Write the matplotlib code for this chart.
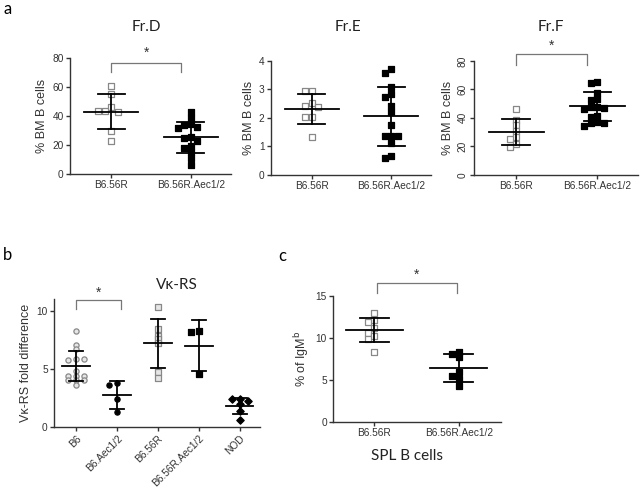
import matplotlib
matplotlib.use("Agg")
import matplotlib.pyplot as plt
import numpy as np

W, H = 641, 496

# panel a: % BM B cells, B6.56R vs B6.56R.Aec1/2
a_groups = ["B6.56R", "B6.56R.Aec1/2"]
frd_b656r = [60.6, 55.3, 46.1, 43.8, 42.9, 43.8, 30.0, 22.8]
frd_aec = [43.1, 39.0, 34.6, 33.9, 32.7, 32.0, 25.8, 24.7, 22.8, 19.4, 18.2, 15.0, 10.8, 6.2]
frd_mean = [43.0, 25.4]
frd_sd = [12.1, 10.8]

fre_b656r = [2.96, 2.96, 2.51, 2.42, 2.37, 2.02, 2.02, 1.34]
fre_aec = [3.72, 3.59, 3.10, 2.84, 2.72, 2.42, 2.22, 1.75, 1.37, 1.36, 1.36, 1.13, 0.66, 0.60]
fre_mean = [2.32, 2.05]
fre_sd = [0.53, 1.04]

frf_b656r = [46.1, 38.5, 34.7, 30.9, 26.3, 24.9, 21.6, 19.4]
frf_aec = [65.5, 64.5, 57.7, 53.0, 52.3, 47.4, 47.4, 46.7, 46.2, 41.6, 40.6, 37.3, 36.1, 36.1, 34.5]
frf_mean = [30.1, 48.0]
frf_sd = [9.2, 10.0]

# panel b: Vk-RS fold difference
b_groups = ["B6", "B6.Aec1/2", "B6.56R", "B6.56R.Aec1/2", "NOD"]
vk_b6 = [8.3, 7.1, 6.7, 5.85, 5.8, 5.85, 4.85, 4.45, 4.4, 4.4, 4.1, 4.1, 4.1, 3.6]
vk_b6aec = [3.78, 3.61, 2.41, 1.35]
vk_b656r = [10.37, 8.42, 7.88, 7.56, 7.22, 4.73, 4.21]
vk_b656raec = [8.31, 8.22, 4.56]
vk_nod = [2.4, 2.4, 2.3, 2.0, 1.4, 0.6]
vk_mean = [5.27, 2.78, 7.22, 7.02, 1.83]
vk_sd = [1.3, 1.17, 2.12, 2.17, 0.66]

# panel c: % of IgMb, SPL B cells
c_b656r = [12.95, 12.15, 11.87, 11.2, 10.64, 10.24, 9.88, 8.29]
c_aec = [8.37, 8.05, 7.77, 5.98, 5.5, 5.1, 4.26]
c_mean = [10.96, 6.41]
c_sd = [1.45, 1.63]

SANS = ["Liberation Sans", "DejaVu Sans"]
TITLE = ["Lato", "DejaVu Sans"]
plt.rcParams["font.family"] = SANS

fig = plt.figure(figsize=(W / 100, H / 100), dpi=100)


def box(l, t, r, b):
    return [l / W, 1 - b / H, (r - l) / W, (b - t) / H]


def swarm(ax, vals, col_px, gap_px):
    # simple beeswarm: put each point in the nearest free column
    y0, y1 = ax.get_ylim()
    x0, x1 = ax.get_xlim()
    bb = ax.get_position()
    sy = bb.height * H / (y1 - y0)
    sx = bb.width * W / (x1 - x0)
    placed, offs = [], []
    for v in vals:
        for c in [0, -1, 1, -2, 2, 3, -3]:
            if all(pc != c or abs(v - pv) * sy >= gap_px for pv, pc in placed):
                break
        placed.append((v, c))
        offs.append(c * col_px / sx)
    return np.array(offs)


def style(ax):
    for s in ["top", "right"]:
        ax.spines[s].set_visible(False)
    for s in ["left", "bottom"]:
        ax.spines[s].set_linewidth(1.0)
        ax.spines[s].set_color("#333333")
    ax.tick_params(length=3, width=1.0, color="#333333", labelsize=7.3, labelcolor="#333333", pad=1.5)


def group(ax, x, vals, mean, sd, marker, fc, ec, ms, col_px, gap_px):
    xs = x + swarm(ax, vals, col_px, gap_px)
    ax.scatter(xs, vals, marker=marker, s=ms, facecolor=fc, edgecolor=ec, linewidth=0.9, zorder=3)
    ax.plot([x - 0.34, x + 0.34], [mean, mean], color="black", lw=1.3, zorder=4)
    for v in (mean - sd, mean + sd):
        ax.plot([x - 0.17, x + 0.17], [v, v], color="black", lw=1.3, zorder=4)
    ax.plot([x, x], [mean - sd, mean + sd], color="black", lw=1.3, zorder=4)


def bracket(ax, x0, x1, ytop, yleg, ystar):
    ax.plot([x0, x0, x1, x1], [yleg, ytop, ytop, yleg], color="#777777", lw=0.9, clip_on=False)
    ax.text((x0 + x1) / 2, ystar, "*", ha="center", va="center", fontsize=10, color="#333333")


# ---- panel a ----
a_specs = [
    ("Fr.D", box(70, 58.3, 230.7, 174), frd_b656r, frd_aec, frd_mean, frd_sd, (0, 80), 146, (0, 0.88, 76.5, 70.5, 84)),
    ("Fr.E", box(270.7, 61, 430.7, 174.7), fre_b656r, fre_aec, fre_mean, fre_sd, (0, 4), 348, None),
    ("Fr.F", box(474, 61, 638, 174.7), frf_b656r, frf_aec, frf_mean, frf_sd, (0, 80), 551, (0, 0.87, 84.7, 77.2, 90.8)),
]
for title, pos, g1, g2, mean, sd, ylim, tx, br in a_specs:
    ax = fig.add_axes(pos)
    ax.set_xlim(-0.52, 1.5)
    ax.set_ylim(*ylim)
    style(ax)
    ax.set_yticks(np.linspace(ylim[0], ylim[1], 5))
    if ylim[1] == 4:
        ax.set_yticklabels(["0", "1", "2", "3", "4"])
    else:
        ax.set_yticklabels(["0", "20", "40", "60", "80"])
    ax.set_xticks([0, 1])
    ax.set_xticklabels(a_groups)
    ax.set_ylabel("% BM B cells", fontsize=9, color="#333333", labelpad=3)
    if title == "Fr.F":
        ax.tick_params(axis="y", labelrotation=90)
        for lab in ax.get_yticklabels():
            lab.set_va("center")
    group(ax, 0, g1, mean[0], sd[0], "s", "white", "#888888", 13, 6.5, 5.0)
    group(ax, 1, g2, mean[1], sd[1], "s", "black", "black", 13, 6.5, 5.0)
    if br:
        bracket(ax, *br)
    fig.text(tx / W, 1 - 27 / H, title, ha="center", va="center", fontsize=11, family=TITLE, color="#222222")

fig.text(8 / W, 1 - 9 / H, "a", ha="center", va="center", fontsize=12, family=TITLE)

# ---- panel b ----
axb = fig.add_axes(box(54, 299.3, 260, 427.3))
axb.set_xlim(-0.54, 4.5)
axb.set_ylim(0, 11)
style(axb)
axb.set_yticks([0, 5, 10])
axb.set_xticks(range(5))
axb.set_xticklabels(b_groups, rotation=45, ha="right", rotation_mode="anchor")
axb.set_ylabel("V\u03ba-RS fold difference", fontsize=9, color="#333333", labelpad=3)
b_vals = [vk_b6, vk_b6aec, vk_b656r, vk_b656raec, vk_nod]
b_mark = [("o", "#e6e6e6", "#888888"), ("o", "black", "black"), ("s", "#e6e6e6", "#888888"),
          ("s", "black", "black"), ("D", "black", "black")]
for i, (vals, (m, fc, ec)) in enumerate(zip(b_vals, b_mark)):
    group(axb, i, vals, vk_mean[i], vk_sd[i], m, fc, ec, 14, 8, 3.2)
bracket(axb, 0, 1.1, 10.9, 10.2, 11.6)
fig.text(177 / W, 1 - 285 / H, "V\u03ba-RS", ha="center", va="center", fontsize=11, family=TITLE, color="#222222")
fig.text(7 / W, 1 - 255 / H, "b", ha="center", va="center", fontsize=12, family=TITLE)

# ---- panel c ----
axc = fig.add_axes(box(333, 296, 501, 421.7))
axc.set_xlim(-0.49, 1.5)
axc.set_ylim(0, 15)
style(axc)
axc.set_yticks([0, 5, 10, 15])
axc.set_xticks([0, 1])
axc.set_xticklabels(a_groups)
axc.set_ylabel("% of IgM$^\\mathrm{b}$", fontsize=9, color="#333333", labelpad=3)
group(axc, 0, c_b656r, c_mean[0], c_sd[0], "s", "white", "#888888", 13, 6.5, 5.0)
group(axc, 1, c_aec, c_mean[1], c_sd[1], "s", "black", "black", 13, 6.5, 5.0)
bracket(axc, 0.03, 0.98, 16.6, 15.3, 17.5)
fig.text(407 / W, 1 - 456 / H, "SPL B cells", ha="center", va="center", fontsize=11, family=TITLE, color="#222222")
fig.text(282 / W, 1 - 256 / H, "c", ha="center", va="center", fontsize=12, family=TITLE)

fig.savefig("out.png", dpi=100, facecolor="white")
